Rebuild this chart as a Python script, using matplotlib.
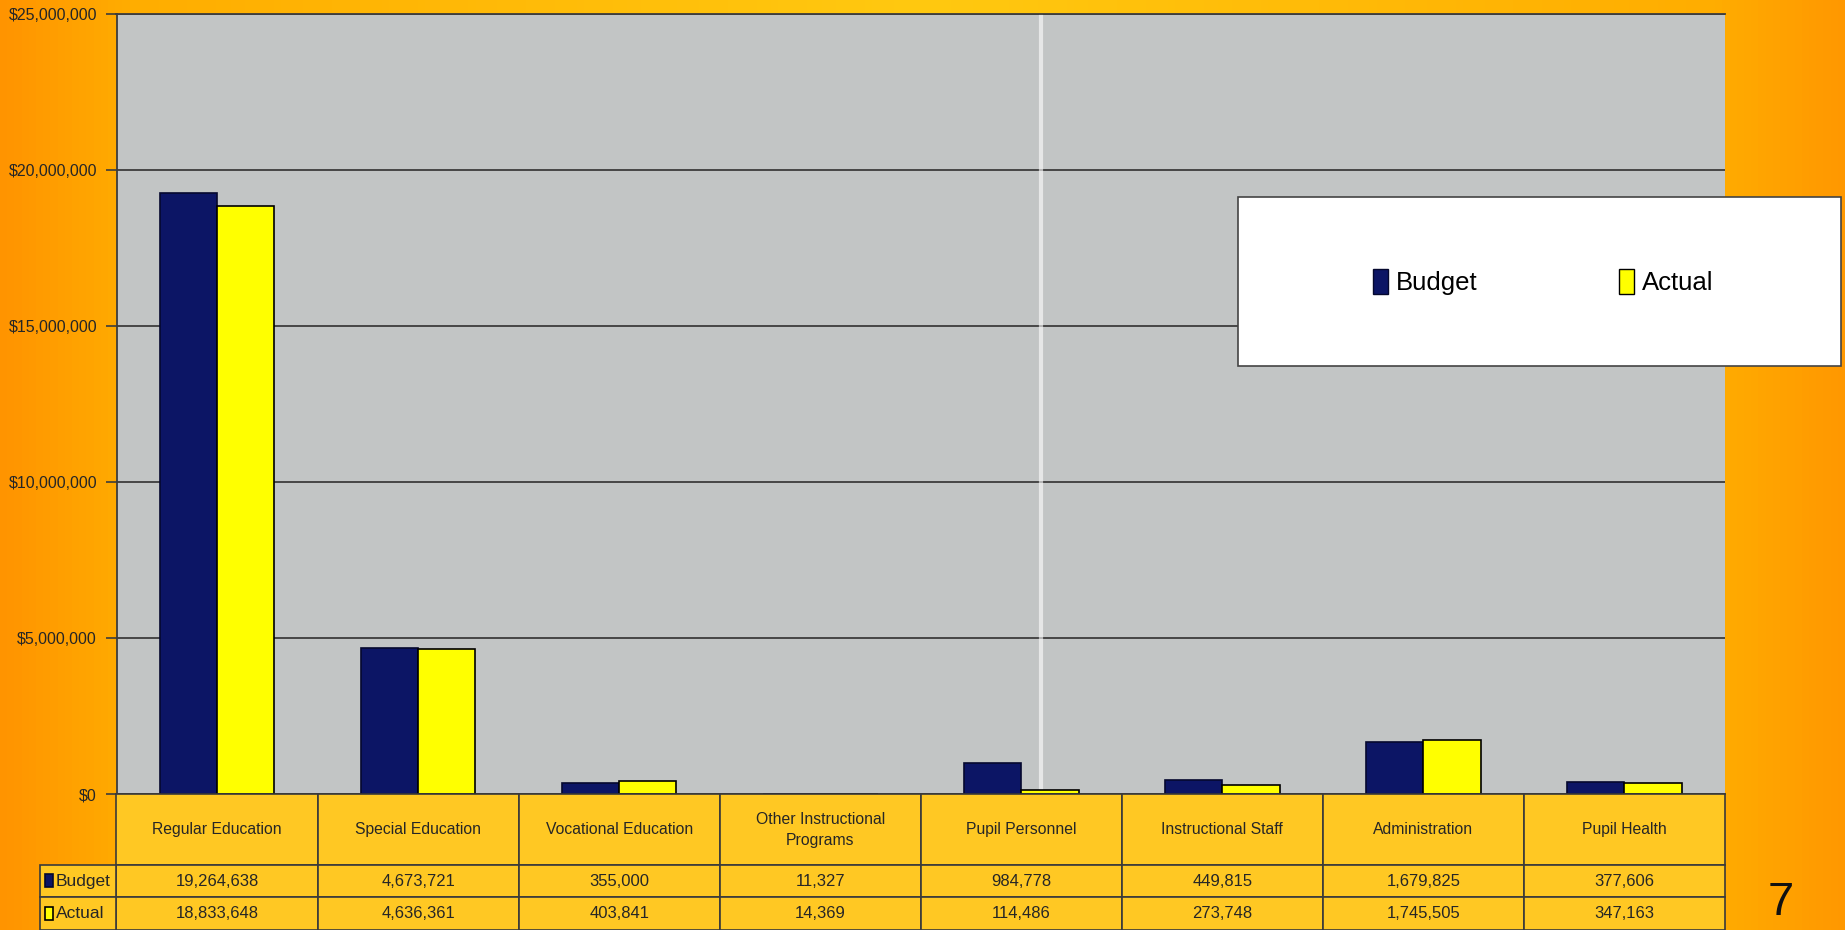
import numpy as np
import matplotlib
matplotlib.use("Agg")
import matplotlib.pyplot as plt
from matplotlib.colors import LinearSegmentedColormap
from matplotlib.patches import Rectangle
from matplotlib.ticker import FuncFormatter, MultipleLocator

categories = ["Regular Education", "Special Education", "Vocational Education",
              "Other Instructional\nPrograms", "Pupil Personnel", "Instructional Staff",
              "Administration", "Pupil Health"]
budget = [19264638, 4673721, 355000, 11327, 984778, 449815, 1679825, 377606]
actual = [18833648, 4636361, 403841, 14369, 114486, 273748, 1745505, 347163]
series_names = ["Budget", "Actual"]
page_number = "7"

navy = "#0c1565"
yellow = "#ffff00"
cell_color = "#ffc823"
line_color = "#3a3a3a"
text_color = "#262626"

plt.rcParams['font.family'] = ['Liberation Sans', 'DejaVu Sans']

W, H = 1845, 930
fig = plt.figure(figsize=(W / 100, H / 100), dpi=100)

# orange page background
bg = fig.add_axes([0, 0, 1, 1], zorder=-10)
cmap = LinearSegmentedColormap.from_list("bg", [(0, "#ff9400"), (0.07, "#ffad00"), (0.5, "#ffc910"),
                                                (0.93, "#ffad00"), (1, "#ff9800")])
bg.imshow(np.linspace(0, 1, 256).reshape(1, -1), aspect="auto", cmap=cmap, extent=[0, 1, 0, 1])
bg.axis("off")

left, right, top, zero = 116.5, 1725, 14, 794
ax = fig.add_axes([left / W, (H - zero) / H, (right - left) / W, (zero - top) / H])
ax.set_facecolor("#c2c5c5")
x = np.arange(len(categories))
bw = 0.285
ax.bar(x - bw / 2, budget, bw, color=navy, edgecolor="#05082e", linewidth=1.2, zorder=3)
ax.bar(x + bw / 2, actual, bw, color=yellow, edgecolor="black", linewidth=1.2, zorder=3)
ax.set_xlim(-0.5, len(categories) - 0.5)
ax.set_ylim(0, 25000000)
ax.yaxis.set_major_locator(MultipleLocator(5000000))
ax.yaxis.set_major_formatter(FuncFormatter(lambda v, p: "${:,}".format(int(v))))
ax.grid(True, axis="y", color="#3c3c3c", linewidth=1.3)
ax.set_axisbelow(True)
ax.set_xticks([])
ax.tick_params(axis="y", length=8, width=1.2, color="#3c3c3c", labelsize=11.5, pad=6, labelcolor=text_color)
ax.spines["right"].set_visible(False)
for s in ["left", "top", "bottom"]:
    ax.spines[s].set_color("#3c3c3c")
    ax.spines[s].set_linewidth(1.3)
# scan streak
ax.plot([0.575, 0.575], [0, 1], transform=ax.transAxes, color="white", alpha=0.6, lw=3, zorder=2)

# data table under the chart, y in pixels
tab = fig.add_axes([left / W, 0, (right - left) / W, (H - zero) / H])
tab.set_xlim(ax.get_xlim())
tab.set_ylim(0, H - zero)
tab.axis("off")
ppu = (right - left) / len(categories)
rows = [(65, 136), (33, 65), (0, 33)]
for i, cat in enumerate(categories):
    for (y0, y1) in rows:
        tab.add_patch(Rectangle((i - 0.5, y0), 1, y1 - y0, facecolor=cell_color,
                                edgecolor=line_color, linewidth=1.2, clip_on=False))
    tab.text(i, 100.5, cat, ha="center", va="center", fontsize=11.3, color=text_color, linespacing=1.5)
    tab.text(i, 49, "{:,}".format(budget[i]), ha="center", va="center", fontsize=12, color=text_color)
    tab.text(i, 16.5, "{:,}".format(actual[i]), ha="center", va="center", fontsize=12, color=text_color)

lab_w = (left - 40) / ppu
for (y0, y1), name, fc, ec in zip(rows[1:], series_names, [navy, yellow], ["#05082e", "black"]):
    tab.add_patch(Rectangle((-0.5 - lab_w, y0), lab_w, y1 - y0, facecolor=cell_color,
                            edgecolor=line_color, linewidth=1.2, clip_on=False))
    tab.add_patch(Rectangle((-0.5 - lab_w + 5 / ppu, (y0 + y1) / 2 - 6), 8 / ppu, 13,
                            facecolor=fc, edgecolor=ec, linewidth=1.2, clip_on=False))
    tab.text(-0.5 - lab_w + 16 / ppu, (y0 + y1) / 2, name, ha="left", va="center",
             fontsize=12.5, color=text_color)

# legend box
box = Rectangle((1238 / W, (H - 366) / H), (1841 - 1238) / W, (366 - 197) / H,
                transform=fig.transFigure, facecolor="white", edgecolor="#444444",
                linewidth=1.2, zorder=5)
fig.patches.append(box)
handles = [Rectangle((0, 0), 1, 1, facecolor=navy, edgecolor="#05082e"),
           Rectangle((0, 0), 1, 1, facecolor=yellow, edgecolor="black")]
leg = fig.legend(handles, series_names, loc="center", bbox_to_anchor=(1543 / W, (H - 282) / H),
                 ncol=2, frameon=False, fontsize=18.5, handlelength=0.6, handleheight=1.1,
                 handletextpad=0.3, columnspacing=5.5)
leg.set_zorder(6)

fig.text(1781 / W, (H - 903) / H, page_number, fontsize=34, ha="center", va="center", color="#111111")

fig.savefig("out.png", dpi=100)
